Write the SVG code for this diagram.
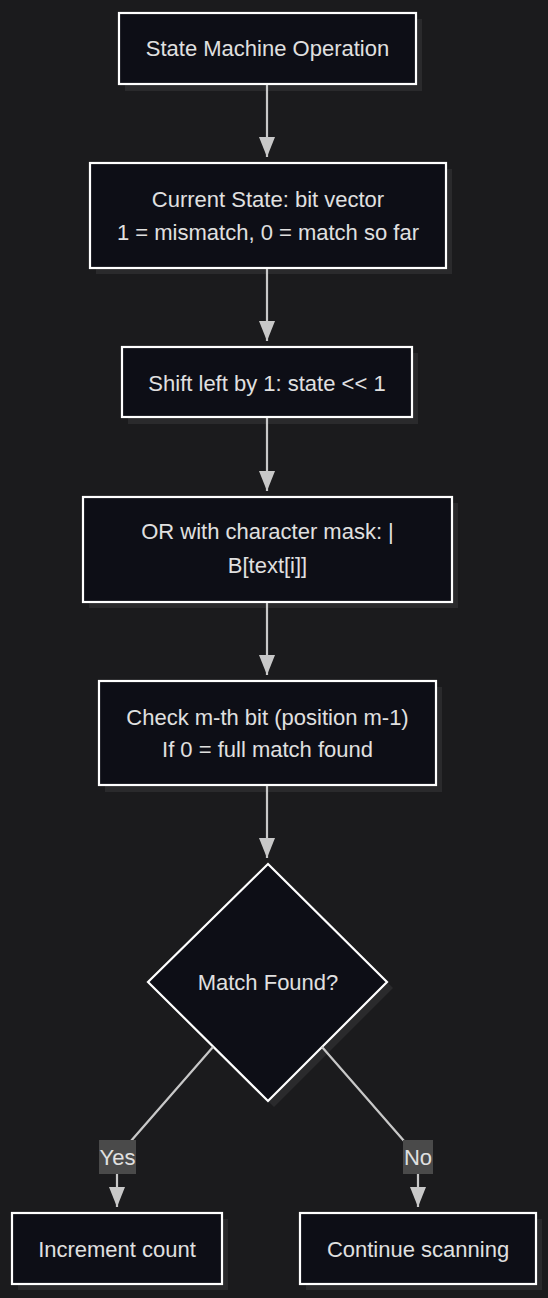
<svg xmlns="http://www.w3.org/2000/svg" width="548" height="1298" viewBox="0 0 548 1298">
<defs>
<style>
.bg{fill:#1b1b1d}
.sh{fill:#2a2a2c}
.nd{fill:#0d0e16;stroke:#ffffff;stroke-width:2.2}
.tx{font-family:"Liberation Sans",Arial,sans-serif;font-size:22px;fill:#e0e0e0;text-anchor:middle}
.ed{fill:none;stroke:#c8c8c8;stroke-width:2.2}
.lb{fill:#4a4a4a}
</style>
<marker id="ah" viewBox="0 0 20 16" refX="20" refY="8" markerWidth="20" markerHeight="16" markerUnits="userSpaceOnUse" orient="auto">
<path d="M0,0 L20,8 L0,16 Z" fill="#c8c8c8"/>
</marker>
</defs>
<rect class="bg" x="0" y="0" width="548" height="1298"/>
<g id="n1"><rect class="sh" x="125" y="19" width="297" height="72"/><rect class="nd" x="119" y="13" width="297" height="71"/><text class="tx" x="267.5" y="56">State Machine Operation</text></g>
<g id="n2"><rect class="sh" x="96" y="169" width="356" height="105"/><rect class="nd" x="90" y="163" width="356" height="105"/><text class="tx" x="268" y="206.5">Current State: bit vector</text><text class="tx" x="268" y="239.5">1 = mismatch, 0 = match so far</text></g>
<g id="n3"><rect class="sh" x="128" y="353" width="290" height="71"/><rect class="nd" x="122" y="347" width="290" height="70"/><text class="tx" x="267" y="390.5">Shift left by 1: state &lt;&lt; 1</text></g>
<g id="n4"><rect class="sh" x="89" y="503" width="369" height="105"/><rect class="nd" x="83" y="497" width="369" height="105"/><text class="tx" x="267.5" y="538.5">OR with character mask: |</text><text class="tx" x="267.5" y="572.5">B[text[i]]</text></g>
<g id="n5"><rect class="sh" x="105" y="687" width="337" height="105"/><rect class="nd" x="99" y="681" width="337" height="104"/><text class="tx" x="267.5" y="724.5">Check m-th bit (position m-1)</text><text class="tx" x="267.5" y="756.5">If 0 = full match found</text></g>
<g id="n6"><path class="sh" d="M274,870 L393,988 L274,1107 L154,988 Z"/><path class="nd" d="M268,864 L387,982 L268,1101 L148,982 Z"/><text class="tx" x="268" y="989.5">Match Found?</text></g>
<g id="n7"><rect class="sh" x="18" y="1219" width="210" height="71"/><rect class="nd" x="12" y="1213" width="210" height="71"/><text class="tx" x="117" y="1256.5">Increment count</text></g>
<g id="n8"><rect class="sh" x="306" y="1219" width="236" height="71"/><rect class="nd" x="300" y="1213" width="236" height="71"/><text class="tx" x="418" y="1256.5">Continue scanning</text></g>
<g id="connectors">
<path class="ed" d="M267,85 L267,157" marker-end="url(#ah)"/>
<path class="ed" d="M267,269 L267,341" marker-end="url(#ah)"/>
<path class="ed" d="M267,418 L267,491" marker-end="url(#ah)"/>
<path class="ed" d="M267,603 L267,675" marker-end="url(#ah)"/>
<path class="ed" d="M267,786 L267,858" marker-end="url(#ah)"/>
<path class="ed" d="M213,1047 L117,1157 L117,1207" marker-end="url(#ah)"/>
<path class="ed" d="M322,1047 L418,1157 L418,1207" marker-end="url(#ah)"/>
<g id="label-yes"><rect class="lb" x="99" y="1140" width="37" height="34"/><text class="tx" x="117.5" y="1164.5">Yes</text></g>
<g id="label-no"><rect class="lb" x="403" y="1140" width="30" height="34"/><text class="tx" x="418" y="1164.5">No</text></g>
</g>
</svg>
